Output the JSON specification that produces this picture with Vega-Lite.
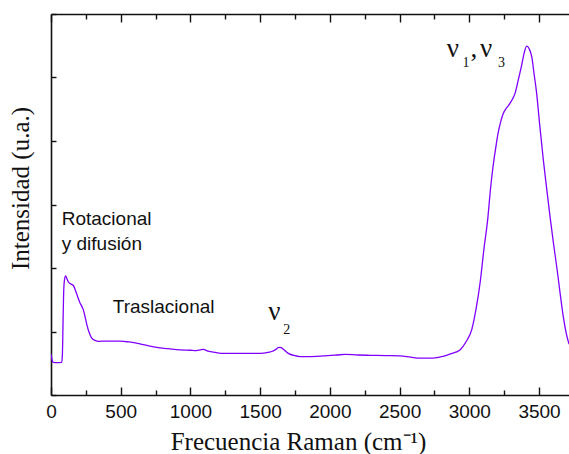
{
  "$schema": "https://vega.github.io/schema/vega-lite/v6.json",
  "width": 518,
  "height": 381,
  "autosize": {"type": "none"},
  "padding": {"left": 51, "top": 14, "right": 0, "bottom": 59},
  "background": "white",
  "config": {
    "view": {"stroke": null},
    "axis": {"domainColor": "#111", "domainWidth": 1.6, "tickColor": "#111", "tickWidth": 1.4, "grid": false}
  },
  "datasets": {
    "spectrum": [
      {"x":0,"y":1.29},{"x":8,"y":1.10},{"x":16,"y":1.03},{"x":40,"y":1.02},{"x":77,"y":1.03},
      {"x":82,"y":1.3},{"x":86,"y":2.2},{"x":90,"y":3.1},{"x":96,"y":3.6},{"x":105,"y":3.75},
      {"x":115,"y":3.65},{"x":125,"y":3.56},{"x":140,"y":3.5},{"x":160,"y":3.45},{"x":179,"y":3.25},
      {"x":195,"y":3.05},{"x":208,"y":2.9},{"x":220,"y":2.8},{"x":232,"y":2.68},{"x":245,"y":2.45},
      {"x":258,"y":2.2},{"x":275,"y":1.95},{"x":292,"y":1.79},{"x":316,"y":1.72},{"x":339,"y":1.69},
      {"x":400,"y":1.70},{"x":495,"y":1.70},{"x":560,"y":1.67},{"x":638,"y":1.61},{"x":700,"y":1.55},
      {"x":758,"y":1.50},{"x":840,"y":1.46},{"x":925,"y":1.42},{"x":1000,"y":1.41},{"x":1040,"y":1.40},
      {"x":1070,"y":1.42},{"x":1092,"y":1.44},{"x":1126,"y":1.38},{"x":1180,"y":1.34},{"x":1236,"y":1.31},
      {"x":1300,"y":1.31},{"x":1400,"y":1.31},{"x":1475,"y":1.31},{"x":1540,"y":1.33},{"x":1583,"y":1.37},
      {"x":1610,"y":1.43},{"x":1635,"y":1.50},{"x":1650,"y":1.49},{"x":1664,"y":1.45},{"x":1685,"y":1.37},
      {"x":1702,"y":1.31},{"x":1740,"y":1.25},{"x":1786,"y":1.21},{"x":1850,"y":1.21},{"x":1953,"y":1.23},
      {"x":2050,"y":1.26},{"x":2109,"y":1.28},{"x":2200,"y":1.26},{"x":2288,"y":1.25},{"x":2400,"y":1.24},
      {"x":2503,"y":1.23},{"x":2580,"y":1.19},{"x":2647,"y":1.16},{"x":2740,"y":1.16},{"x":2814,"y":1.22},
      {"x":2870,"y":1.30},{"x":2933,"y":1.42},{"x":2980,"y":1.70},{"x":3017,"y":2.05},{"x":3050,"y":2.75},
      {"x":3077,"y":3.52},{"x":3105,"y":4.6},{"x":3134,"y":5.62},{"x":3150,"y":6.4},{"x":3170,"y":7.19},
      {"x":3190,"y":7.8},{"x":3206,"y":8.24},{"x":3225,"y":8.6},{"x":3242,"y":8.85},{"x":3260,"y":9.0},
      {"x":3278,"y":9.1},{"x":3300,"y":9.25},{"x":3328,"y":9.5},{"x":3350,"y":9.9},{"x":3376,"y":10.4},
      {"x":3395,"y":10.8},{"x":3412,"y":10.99},{"x":3430,"y":10.9},{"x":3448,"y":10.65},{"x":3465,"y":10.1},
      {"x":3483,"y":9.50},{"x":3505,"y":8.5},{"x":3531,"y":7.40},{"x":3555,"y":6.5},{"x":3579,"y":5.62},
      {"x":3603,"y":4.8},{"x":3627,"y":4.04},{"x":3650,"y":3.25},{"x":3674,"y":2.47},{"x":3695,"y":1.95},
      {"x":3715,"y":1.6}
    ],
    "labels": [
      {"x":77,"y":5.35,"text":"Rotacional"},
      {"x":77,"y":4.57,"text":"y difusión"},
      {"x":443,"y":2.59,"text":"Traslacional"}
    ],
    "nu": [
      {"x":1558,"y":2.36,"text":"ν"},
      {"x":2838,"y":10.65,"text":"ν"},
      {"x":3008,"y":10.65,"text":","},
      {"x":3077,"y":10.65,"text":"ν"}
    ],
    "subs": [
      {"x":1666,"y":1.91,"text":"2"},
      {"x":2951,"y":10.33,"text":"1"},
      {"x":3206,"y":10.33,"text":"3"}
    ]
  },
  "layer": [
    {
      "data": {"name": "spectrum"},
      "mark": {"type": "line", "color": "#8000ff", "strokeWidth": 1.3, "clip": true, "interpolate": "monotone"},
      "encoding": {
        "x": {
          "field": "x", "type": "quantitative",
          "scale": {"domain": [0, 3715], "nice": false, "zero": false},
          "axis": {
            "orient": "bottom",
            "values": [0,250,500,750,1000,1250,1500,1750,2000,2250,2500,2750,3000,3250,3500],
            "labelExpr": "datum.value % 500 === 0 ? datum.label : ''",
            "format": "d",
            "tickSize": {"condition": {"test": "datum.value % 500 === 0", "value": -8}, "value": -5},
            "labelPadding": 15,
            "labelFont": "Liberation Sans", "labelFontSize": 19, "labelColor": "#111",
            "labelFlush": false,
            "title": "Frecuencia Raman (cm⁻¹)",
            "titleFont": "Liberation Serif", "titleFontSize": 25, "titleFontWeight": "normal", "titleColor": "#111",
            "titleX": 247, "titleY": 54, "titleBaseline": "alphabetic", "titleAlign": "center"
          }
        },
        "y": {
          "field": "y", "type": "quantitative",
          "scale": {"domain": [0, 12], "nice": false, "zero": false},
          "axis": {
            "orient": "left",
            "values": [0,1,2,3,4,5,6,7,8,9,10,11,12],
            "labels": false,
            "tickSize": -5,
            "title": "Intensidad (u.a.)",
            "titleFont": "Liberation Serif", "titleFontSize": 25, "titleFontWeight": "normal", "titleColor": "#111",
            "titleX": -22.5, "titleY": 174, "titleBaseline": "alphabetic", "titleAlign": "center", "titleAngle": -90
          }
        }
      }
    },
    {
      "data": {"name": "labels"},
      "mark": {"type": "text", "font": "Liberation Sans", "fontSize": 19, "align": "left", "baseline": "alphabetic", "color": "#111"},
      "encoding": {
        "x": {
          "field": "x", "type": "quantitative",
          "axis": {
            "orient": "top",
            "values": [0,250,500,750,1000,1250,1500,1750,2000,2250,2500,2750,3000,3250,3500],
            "labels": false,
            "tickSize": {"condition": {"test": "datum.value % 500 === 0", "value": -8}, "value": -5},
            "title": null
          }
        },
        "y": {"field": "y", "type": "quantitative"},
        "text": {"field": "text"}
      }
    },
    {
      "data": {"name": "nu"},
      "mark": {"type": "text", "font": "Liberation Serif", "fontSize": 27, "align": "left", "baseline": "alphabetic", "color": "#111"},
      "encoding": {
        "x": {"field": "x", "type": "quantitative", "axis": null},
        "y": {"field": "y", "type": "quantitative"},
        "text": {"field": "text"}
      }
    },
    {
      "data": {"name": "subs"},
      "mark": {"type": "text", "font": "Liberation Serif", "fontSize": 14, "align": "left", "baseline": "alphabetic", "color": "#111"},
      "encoding": {
        "x": {"field": "x", "type": "quantitative", "axis": null},
        "y": {"field": "y", "type": "quantitative"},
        "text": {"field": "text"}
      }
    }
  ],
  "resolve": {"axis": {"x": "independent"}}
}
